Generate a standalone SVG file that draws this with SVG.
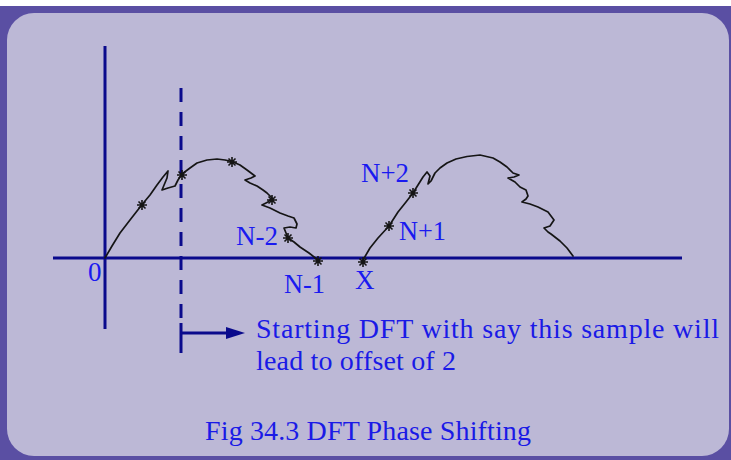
<svg xmlns="http://www.w3.org/2000/svg" xmlns:xlink="http://www.w3.org/1999/xlink" width="731" height="460" viewBox="0 0 731 460">
<style>
.axis{stroke:#0a0a8c;stroke-width:3;fill:none}
.dash{stroke:#0a0a8c;stroke-width:3;fill:none;stroke-dasharray:14 10}
.curve{stroke:#151515;stroke-width:1.7;fill:none;stroke-linejoin:round;stroke-linecap:round}
.star{stroke:#151515;stroke-width:1.6;fill:none}
.lbl{font-family:"Liberation Serif","Times New Roman",serif;font-size:27px;fill:#1a1af0}
.note{font-family:"Liberation Serif","Times New Roman",serif;font-size:28px;fill:#1a1ae6}
</style>
<defs>
<path id="st" class="star" d="M-5,0H5M0,-5V5M-3.5,-3.5L3.5,3.5M-3.5,3.5L3.5,-3.5"/>
</defs>
<g id="frame">
<rect x="0" y="6" width="731" height="454" fill="#5a4fa3"/>
<rect x="7" y="13" width="722" height="443" rx="27" ry="27" fill="#bcb8d6"/>
</g>
<g id="axes">
<line class="axis" x1="105" y1="46" x2="105" y2="329"/>
<line class="axis" x1="53" y1="258" x2="682" y2="258"/>
</g>
<g id="connectors">
<line class="dash" x1="181" y1="88" x2="181" y2="318"/>
<line class="axis" x1="181" y1="323" x2="181" y2="353"/>
<line x1="181" y1="333" x2="232" y2="333" stroke="#0a0a8c" stroke-width="3"/>
<path d="M226,327L245,333L226,339Z" fill="#0a0a8c"/>
</g>
<g id="curve1">
<path class="curve" d="M105,258L112,246L120,233L130,220L141.7,205L150,195L157,185L163,177L168,171L167,178L162,190L168,188L175,186L178,180L182,174L190,168L197,163L207,160L217,159L225,160L232,161.5L240,165L247,170L255,176L251,178L245,180L250,183L257,186L263,190L267,193L272,198L268,202L262,205L270,208L280,213L288,216L294,218L297,224L296,228L290,227L284,228L286,233L288,238L294,242L300,247L309,253L318,260"/>
<use xlink:href="#st" x="142" y="205"/>
<use xlink:href="#st" x="182" y="175"/>
<use xlink:href="#st" x="232" y="162"/>
<use xlink:href="#st" x="272" y="200"/>
<use xlink:href="#st" x="288" y="238"/>
<use xlink:href="#st" x="318" y="261"/>
</g>
<g id="curve2">
<path class="curve" d="M363,260L370,248L378,238L389,226L398,212L406,202L413,193L418,185L423,177L427,172L430,176L428,184L431,181L435,173L440,168L447,163L456,159L467,156.5L480,155L493,158L500,162L507,167L513,173L519,175L514,177L508,178L515,182L520,187L526,190L528,196L526,199L522,202L530,204L538,207L548,212L554,220L550,226L544,228L548,232L551,234L560,241L567,248L573,256"/>
<use xlink:href="#st" x="363" y="262"/>
<use xlink:href="#st" x="389" y="226"/>
<use xlink:href="#st" x="413" y="193"/>
</g>
<g id="labels">
<text class="lbl" x="88" y="281">0</text>
<text class="lbl" x="236" y="245" textLength="42" lengthAdjust="spacingAndGlyphs">N-2</text>
<text class="lbl" x="284" y="293" textLength="41" lengthAdjust="spacingAndGlyphs">N-1</text>
<text class="lbl" x="361" y="182" textLength="48" lengthAdjust="spacingAndGlyphs">N+2</text>
<text class="lbl" x="399" y="240" textLength="47" lengthAdjust="spacingAndGlyphs">N+1</text>
<text class="lbl" x="355" y="289">X</text>
</g>
<g id="note">
<text class="note" x="256" y="338" textLength="463" lengthAdjust="spacing">Starting DFT with say this sample will</text>
<text class="note" x="256" y="370" textLength="200" lengthAdjust="spacing">lead to offset of 2</text>
</g>
<g id="caption">
<text class="note" x="205" y="440" textLength="326" lengthAdjust="spacing">Fig 34.3 DFT Phase Shifting</text>
</g>
</svg>
